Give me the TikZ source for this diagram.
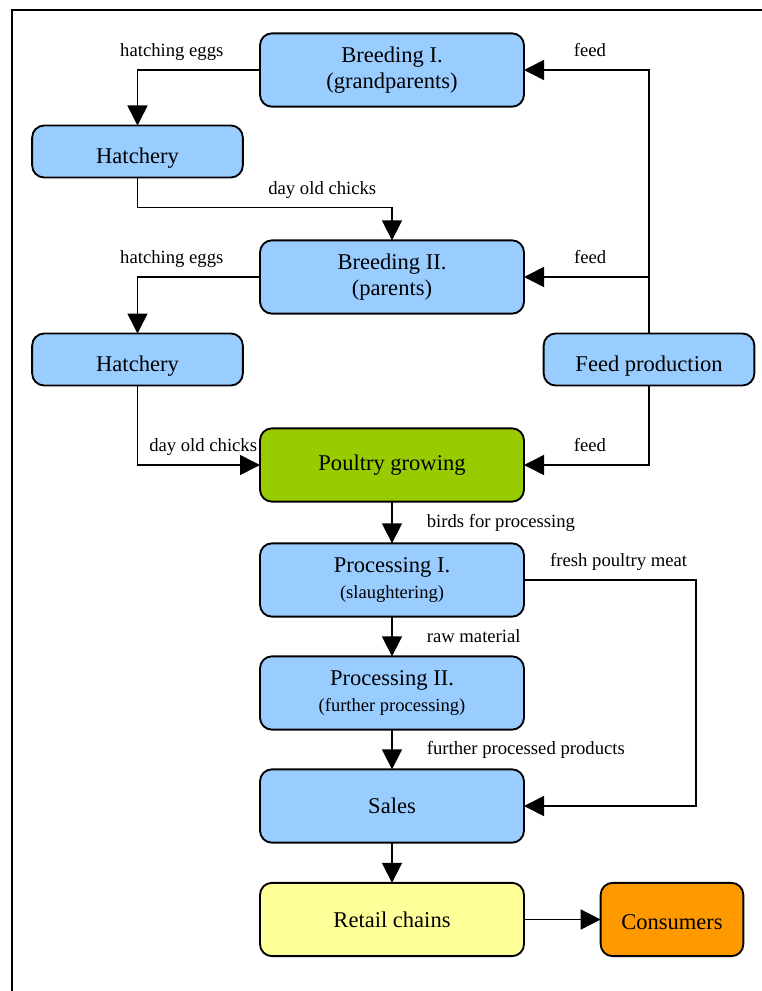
\documentclass[tikz,border=0pt]{standalone}
\usepackage{fontspec}
\setmainfont{Liberation Serif}
\usetikzlibrary{arrows.meta}
\definecolor{boxblue}{HTML}{99CCFF}
\definecolor{growgreen}{HTML}{99CC00}
\definecolor{retailyellow}{HTML}{FFFF99}
\definecolor{consorange}{HTML}{FF9900}
\begin{document}
\begin{tikzpicture}[x=0.75pt,y=-0.75pt,
  stage/.style={draw,line width=1.4pt,rounded corners=9pt,fill=boxblue,align=center,
    inner sep=0pt,outer sep=0pt,minimum width=198pt,minimum height=55pt,
    font=\fontsize{16.9}{19.5}\selectfont},
  smallstage/.style={stage,minimum width=158pt,minimum height=39pt,text height=18pt,text depth=0pt},
  flow/.style={line width=1.2pt,-{Triangle[length=15pt,width=15pt]}},
  lbl/.style={font=\fontsize{14}{16}\selectfont,inner sep=2pt},
  lblabove/.style={lbl,anchor=base,yshift=10pt},
  lblright/.style={lbl,anchor=west,xshift=23.5pt}]
\useasboundingbox (0,0) rectangle (762,991);
% frame
\draw[line width=1.4pt] (12,991) -- (12,10) -- (762,10);
% stages
\node[stage] (breedA) at (392,70) {Breeding I.\\(grandparents)};
\node[smallstage] (hatchA) at (137.5,151.5) {Hatchery};
\node[stage] (breedB) at (392,277) {Breeding II.\\(parents)};
\node[smallstage] (hatchB) at (137.5,359.5) {Hatchery};
\node[smallstage] (feedprod) at (649,359.5) {Feed production};
\node[stage,fill=growgreen] (growing) at (392,465) {Poultry growing};
\node[stage] (procA) at (392,580) {Processing I.\\{\fontsize{13.9}{16}\selectfont(slaughtering)}};
\node[stage] (procB) at (392,693) {Processing II.\\{\fontsize{13.9}{16}\selectfont(further processing)}};
\node[stage] (sales) at (392,806) {Sales};
\node[stage,fill=retailyellow] (retail) at (392,919.5) {Retail chains};
\node[stage,fill=consorange,minimum width=107pt,text height=15pt,text depth=0pt] (consumers) at (672,919.5) {Consumers};
% breeding and hatching
\draw[flow] (breedA.west) -| node[lblabove,pos=0.36] (eggsA) {hatching eggs} (hatchA.north);
\draw[flow] (hatchA.south) -- ++(0,30) -| node[lblabove,pos=0.363] (chicksA) {day old chicks} (breedB.north);
\draw[flow] (breedB.west) -| node[lblabove,pos=0.36] (eggsB) {hatching eggs} (hatchB.north);
\draw[flow] (hatchB.south) |- node[lblabove,pos=0.768] (chicksB) {day old chicks} (growing.west);
% feed
\coordinate (feedsplit) at (feedprod.north |- breedB.east);
\draw[flow] (feedprod.north) |- node[lblabove,pos=0.736] (feedA) {feed} (breedA.east);
\draw[flow] (feedsplit) -- node[lblabove,pos=0.47] (feedB) {feed} (breedB.east);
\draw[flow] (feedprod.south) |- node[lblabove,pos=0.736] (feedC) {feed} (growing.east);
% processing chain
\draw[flow] (growing.south) -- node[lblright] (birds) {birds for processing} (procA.north);
\draw[flow] (procA.south) -- node[lblright] (raw) {raw material} (procB.north);
\draw[flow] (procB.south) -- node[lblright] (further) {further processed products} (sales.north);
\draw[flow] (procA.east) -- node[lblabove,pos=0.55] (fresh) {fresh poultry meat} ++(172,0) |- (sales.east);
\draw[flow] (sales.south) -- (retail.north);
\draw[flow] (retail.east) -- (consumers.west);
\end{tikzpicture}
\end{document}
